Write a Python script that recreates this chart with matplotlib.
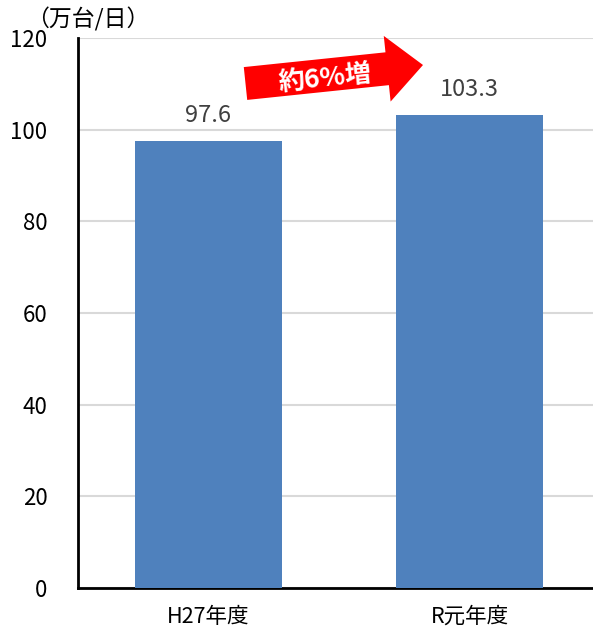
import numpy as np
import matplotlib
matplotlib.use("Agg")
import matplotlib.pyplot as plt
from matplotlib.patches import FancyArrow

plt.rcParams['font.family'] = ['Noto Sans CJK JP', 'DejaVu Sans']

categories = ["H27年度", "R元年度"]
values = [97.6, 103.3]
value_labels = ["97.6", "103.3"]
yticks = [0, 20, 40, 60, 80, 100, 120]
unit_label = "（万台/日）"
growth_text = "約6%増"

W, H = 593, 633
fig = plt.figure(figsize=(W / 100, H / 100), dpi=100)
ax = fig.add_axes([78 / W, (H - 588) / H, 522 / W, 550 / H])

x = np.arange(len(categories))
ax.bar(x, values, width=0.56, color="#4F81BD", zorder=3)
ax.set_xlim(-0.5, 1.5)
ax.set_ylim(0, 120)
ax.set_yticks(yticks)
ax.set_xticks(x)
ax.set_xticklabels(categories, fontsize=15.5)
ax.tick_params(axis="y", length=0, pad=22, labelsize=16)
ax.tick_params(axis="x", length=0, pad=13)
ax.yaxis.grid(True, color="#D9D9D9", linewidth=1.5, zorder=0)
ax.set_axisbelow(True)
for s in ["top", "right"]:
    ax.spines[s].set_visible(False)
for s in ["left", "bottom"]:
    ax.spines[s].set_linewidth(2)
    ax.spines[s].set_color("black")

for xi, v, lab in zip(x, values, value_labels):
    ax.annotate(lab, (xi, v), xytext=(0, 10), textcoords="offset points",
                ha="center", va="bottom", fontsize=17, color="#404040")

fig.text(88 / W, 1 - 19 / H, unit_label, ha="center", va="center", fontsize=16.5)

# growth arrow between the two bars
tr = fig.dpi_scale_trans
x0, y0 = 245.5 / 100, (H - 83.5) / 100
dx, dy = 177.5 / 100, 18.5 / 100
arrow = FancyArrow(x0, y0, dx, dy, width=0.33, head_width=0.66, head_length=0.36,
                   length_includes_head=True, transform=tr, color="#FF0000",
                   linewidth=0, zorder=5)
fig.patches.append(arrow)
fig.text(325 / W, 1 - 79 / H, growth_text, ha="center", va="center", fontsize=19,
         fontweight="bold", color="white", rotation=6, zorder=6)

fig.savefig("out.png", dpi=100)
